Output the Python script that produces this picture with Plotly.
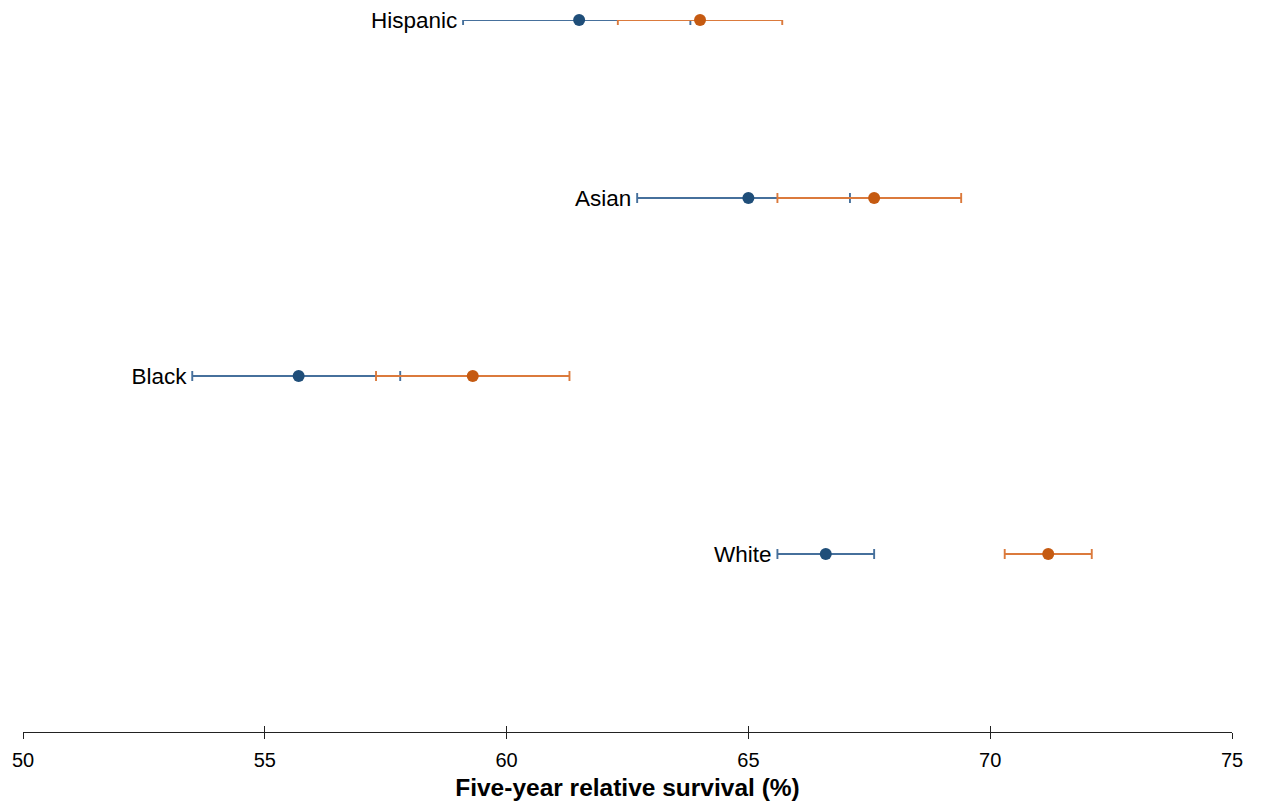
import plotly.graph_objects as go

groups = ["White", "Black", "Asian", "Hispanic"]
ypos = [1, 2, 3, 4]

blue_est = [66.6, 55.7, 65.0, 61.5]
blue_lo = [65.6, 53.5, 62.7, 59.1]
blue_hi = [67.6, 57.8, 67.1, 63.8]

orange_est = [71.2, 59.3, 67.6, 64.0]
orange_lo = [70.3, 57.3, 65.6, 62.3]
orange_hi = [72.1, 61.3, 69.4, 65.7]

x_ticks = [50, 55, 60, 65, 70, 75]

BLUE_M, BLUE_L = "#1F4E79", "#46709C"
ORG_M, ORG_L = "#C55A11", "#DB7A3C"

fig = go.Figure()

def add_series(est, lo, hi, mcol, lcol, name):
    fig.add_trace(go.Scatter(
        x=est, y=ypos, mode="markers", name=name,
        marker=dict(color=mcol, size=12),
        error_x=dict(type="data", symmetric=False,
                     array=[h - e for h, e in zip(hi, est)],
                     arrayminus=[e - l for e, l in zip(est, lo)],
                     color=lcol, thickness=1.9, width=5),
        cliponaxis=False, showlegend=False,
    ))

add_series(blue_est, blue_lo, blue_hi, BLUE_M, BLUE_L, "blue")
add_series(orange_est, orange_lo, orange_hi, ORG_M, ORG_L, "orange")

# group labels placed to the left of the lower CI bound
fig.add_trace(go.Scatter(
    x=[l - 0.12 for l in blue_lo], y=[p - 0.012 for p in ypos], mode="text", text=groups,
    textposition="middle left",
    textfont=dict(family="Liberation Sans, Arial", size=22.5, color="#000"),
    cliponaxis=False, showlegend=False, hoverinfo="skip",
))

# invisible trace on xaxis2 for inside ticks
fig.add_trace(go.Scatter(x=[50, 75], y=[0, 0], xaxis="x2", mode="markers",
                         marker=dict(opacity=0), showlegend=False, hoverinfo="skip"))

fig.update_layout(
    width=1261, height=810,
    margin=dict(l=21, r=29, t=20, b=78),
    plot_bgcolor="white", paper_bgcolor="white",
    font=dict(family="Liberation Sans, Arial", color="#000"),
    xaxis=dict(range=[50, 75], tickvals=x_ticks, ticks="outside", ticklen=6,
               tickwidth=1.3, tickcolor="#222", showline=True, linecolor="#222",
               linewidth=1.3, showgrid=False, zeroline=False,
               ticklabelstandoff=4,
               tickfont=dict(size=20), title=dict(
                   text="<b>Five-year relative survival (%)</b>",
                   font=dict(size=24.5), standoff=8)),
    xaxis2=dict(range=[50, 75], tickvals=x_ticks, ticks="inside", ticklen=6,
                tickwidth=1.3, tickcolor="#222", overlaying="x", side="bottom",
                showticklabels=False, showgrid=False, zeroline=False, showline=False),
    yaxis=dict(range=[0, 4], visible=False, showgrid=False, zeroline=False),
)

fig.write_html("out.html")
